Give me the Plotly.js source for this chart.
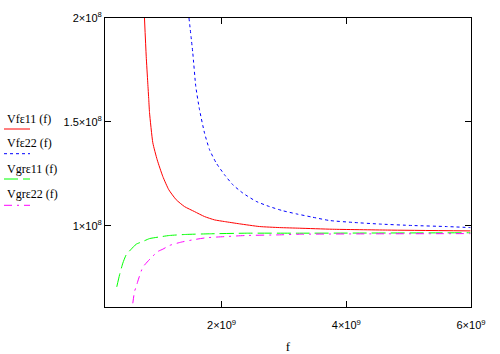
<!DOCTYPE html>
<html>
<head>
<meta charset="utf-8">
<script src="https://cdn.plot.ly/plotly-3.0.1.min.js"></script>
<style>
html,body{margin:0;padding:0;background:#fff;}
#chart{width:500px;height:354px;}
</style>
</head>
<body>
<div id="chart"></div>
<script>
// Frequencies (Hz) and velocities (m/s)
const fRed = [0.763e9, 0.791e9, 0.816e9, 0.832e9, 0.844e9, 0.897e9, 0.967e9, 1.057e9, 1.153e9, 1.272e9, 1.405e9, 1.565e9, 1.726e9, 1.886e9, 2.047e9, 2.287e9, 2.608e9, 2.929e9, 3.25e9, 3.778e9, 4.661e9, 5.99e9];
const vRed = [200e6, 181.6e6, 168.8e6, 160.7e6, 154.5e6, 140e6, 131.8e6, 123.8e6, 117.4e6, 112.6e6, 109.3e6, 106.9e6, 104.5e6, 102.9e6, 102.1e6, 101e6, 99.7e6, 99.2e6, 98.9e6, 98.4e6, 98.0e6, 97.6e6];

const fBlue = [1.477e9, 1.538e9, 1.586e9, 1.646e9, 1.726e9, 1.806e9, 1.913e9, 2.047e9, 2.18e9, 2.34e9, 2.555e9, 2.768e9, 2.982e9, 3.197e9, 3.458e9, 3.73e9, 4.1e9, 4.53e9, 5.06e9, 5.6e9, 5.99e9];
const vBlue = [200e6, 183.2e6, 167.1e6, 155.9e6, 144.7e6, 136.7e6, 130.3e6, 124.6e6, 119.8e6, 115.8e6, 111.8e6, 109.3e6, 107.3e6, 105.8e6, 104.2e6, 102.6e6, 101.7e6, 100.9e6, 100.2e6, 99.7e6, 99.2e6];

const fGreen = [0.319e9, 0.363e9, 0.416e9, 0.47e9, 0.55e9, 0.63e9, 0.736e9, 0.844e9, 1.004e9, 1.164e9, 1.432e9, 1.806e9, 2.395e9, 3.25e9, 5.99e9];
const vGreen = [70.7e6, 76.4e6, 82.1e6, 86.1e6, 88.8e6, 91.2e6, 92.5e6, 93.9e6, 94.7e6, 95.4e6, 95.9e6, 96.2e6, 96.5e6, 96.5e6, 96.7e6];

const fMag = [0.576e9, 0.603e9, 0.63e9, 0.667e9, 0.736e9, 0.855e9, 0.977e9, 1.057e9, 1.164e9, 1.352e9, 1.538e9, 1.753e9, 2.074e9, 2.395e9, 2.929e9, 3.25e9, 4.53e9, 5.99e9];
const vMag = [62.8e6, 68.4e6, 70.8e6, 74.4e6, 80.1e6, 84.2e6, 87.7e6, 88.8e6, 90.6e6, 92.2e6, 93.3e6, 94.3e6, 94.9e6, 95.4e6, 95.7e6, 96.0e6, 96.2e6, 96.3e6];

const seriesNames = ["Vf\u03b511 (f)", "Vf\u03b522 (f)", "Vgr\u03b511 (f)", "Vgr\u03b522 (f)"];
const seriesColors = ["#ff0000", "#0000ff", "#00ff00", "#ff00ff"];
const seriesDash = ["solid", "3px,3px", "14px,5px", "8px,5px,2px,5px"];

const xTickVals = [2e9, 4e9, 6e9];
const xTickText = ["2\u00d710<sup>9</sup>", "4\u00d710<sup>9</sup>", "6\u00d710<sup>9</sup>"];
const yTickVals = [1e8, 1.5e8, 2e8];
const yTickText = ["1\u00d710<sup>8</sup>", "1.5\u00d710<sup>8</sup>", "2\u00d710<sup>8</sup>"];

const xs = [fRed, fBlue, fGreen, fMag];
const ys = [vRed, vBlue, vGreen, vMag];

const traces = xs.map((x, i) => ({
  x: x, y: ys[i], type: 'scatter', mode: 'lines', name: seriesNames[i],
  line: {color: seriesColors[i], width: 1, dash: seriesDash[i], shape: 'spline', smoothing: 0.5},
  hoverinfo: 'skip'
}));

// legend layout (Mathcad style: text above a line sample), in pixels
const L = 105, T = 18, W = 366, H = 289;
const px2x = p => (p - L) / W;
const py2y = p => (T + H - p) / H;
const textCenterY = [119, 143, 169, 194];
const lineY = [129, 153.7, 179, 205.3];

const annotations = seriesNames.map((n, i) => ({
  text: n, xref: 'paper', yref: 'paper', x: px2x(5), y: py2y(textCenterY[i]),
  xanchor: 'left', yanchor: 'middle', showarrow: false,
  font: {family: 'Liberation Serif', size: 12, color: '#000'}
}));
const shapes = seriesNames.map((n, i) => ({
  type: 'line', xref: 'paper', yref: 'paper',
  x0: px2x(4), x1: px2x(30), y0: py2y(lineY[i]), y1: py2y(lineY[i]),
  line: {color: seriesColors[i], width: 1, dash: seriesDash[i]}
}));

const axisCommon = {
  showline: true, linecolor: '#000', linewidth: 1, mirror: 'ticks',
  ticks: 'inside', ticklen: 6, tickcolor: '#000', tickwidth: 1,
  showgrid: false, zeroline: false, tickmode: 'array',
  tickfont: {family: 'Liberation Sans', size: 11, color: '#000'}
};

const layout = {
  width: 500, height: 354,
  margin: {l: L, r: 500 - L - W, t: T, b: 354 - T - H, pad: 0},
  paper_bgcolor: '#fff', plot_bgcolor: '#fff',
  showlegend: false,
  hovermode: false,
  xaxis: Object.assign({}, axisCommon, {
    range: [1.3e8, 6e9], tickvals: xTickVals, ticktext: xTickText,
    ticklabelstandoff: 8,
    title: {text: 'f', font: {family: 'Liberation Serif', size: 13, color: '#000'}, standoff: 12}
  }),
  yaxis: Object.assign({}, axisCommon, {
    range: [61e6, 200e6], tickvals: yTickVals, ticktext: yTickText
  }),
  annotations: annotations,
  shapes: shapes
};

Plotly.newPlot('chart', traces, layout, {displayModeBar: false});
</script>
</body>
</html>
